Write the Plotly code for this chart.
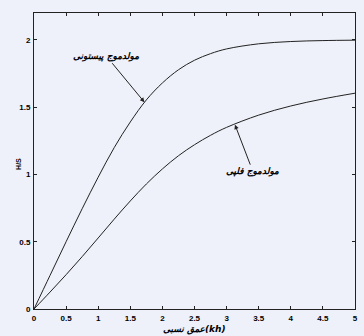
import plotly.graph_objects as go

# relative depth kh
kh = [0, 0.25, 0.5, 0.75, 1.0, 1.25, 1.5, 1.75, 2.0, 2.25, 2.5, 2.75, 3.0, 3.5, 4.0, 4.5, 5.0]
# H/S piston wavemaker
piston = [0, 0.25, 0.50, 0.745, 0.98, 1.20, 1.39, 1.554, 1.68, 1.778, 1.849, 1.898, 1.933, 1.971, 1.988, 1.995, 1.998]
# H/S flap wavemaker
flap = [0, 0.126, 0.255, 0.389, 0.528, 0.668, 0.803, 0.929, 1.041, 1.139, 1.221, 1.291, 1.350, 1.441, 1.509, 1.561, 1.604]

x_ticks = [0, 0.5, 1, 1.5, 2, 2.5, 3, 3.5, 4, 4.5, 5]
x_ticklabels = ["0", "0.5", "1", "1.5", "2", "2.5", "3", "3.5", "4", "4.5", "5"]
y_ticks = [0, 0.5, 1, 1.5, 2]
y_ticklabels = ["0", "0.5", "1", "1.5", "2"]

label_piston = "مولدموج پیستونی"
label_flap = "مولدموج فلپی"
x_title = "عمق نسبی(kh)"
y_title = "H/S"

bg = "#eef1f9"
ink = "#222222"

fig = go.Figure()
fig.add_trace(go.Scatter(x=kh, y=piston, mode="lines", line=dict(color=ink, width=1, shape="spline"), showlegend=False))
fig.add_trace(go.Scatter(x=kh, y=flap, mode="lines", line=dict(color=ink, width=1, shape="spline"), showlegend=False))

tickfont = dict(family="Liberation Sans", size=8, color="#000", weight="bold")
fig.update_xaxes(range=[0, 5], tickvals=x_ticks, ticktext=x_ticklabels,
                 showline=True, linecolor=ink, linewidth=1, mirror="allticks",
                 ticks="inside", ticklen=3, tickcolor=ink, showgrid=False, zeroline=False,
                 tickfont=tickfont, ticklabelstandoff=1)
fig.update_yaxes(range=[0, 2.2], tickvals=y_ticks, ticktext=y_ticklabels,
                 showline=True, linecolor=ink, linewidth=1, mirror="allticks",
                 ticks="inside", ticklen=3, tickcolor=ink, showgrid=False, zeroline=False,
                 tickfont=tickfont, ticklabelstandoff=1)

fig.add_annotation(x=1.72, y=1.537, text="<b><i>" + label_piston + "</i></b>", showarrow=True,
                   ax=-38, ay=-46, arrowhead=2, arrowsize=0.9, arrowwidth=1, arrowcolor=ink,
                   font=dict(family="DejaVu Sans", size=9, color="#000"))
fig.add_annotation(x=3.13, y=1.37, text="<b><i>" + label_flap + "</i></b>", showarrow=True,
                   ax=18, ay=47, arrowhead=2, arrowsize=0.9, arrowwidth=1, arrowcolor=ink,
                   font=dict(family="DejaVu Sans", size=9, color="#000"))

fig.add_annotation(x=0.5, xref="paper", y=-0.068, yref="paper", text="<b><i>" + x_title + "</i></b>",
                   showarrow=False, yanchor="middle",
                   font=dict(family="DejaVu Sans", size=9, color="#000"))
fig.add_annotation(x=-0.064, xref="paper", y=0.49, yref="paper", text="<b>" + y_title + "</b>",
                   showarrow=False, textangle=-90,
                   font=dict(family="Liberation Sans", size=7, color="#000"))

fig.update_layout(width=364, height=336, margin=dict(l=34, r=6, t=13, b=27),
                  paper_bgcolor=bg, plot_bgcolor=bg)

fig.write_html("out.html", config={"displayModeBar": False},
               post_script="document.body.style.margin='0';document.body.style.background='%s';" % bg)
